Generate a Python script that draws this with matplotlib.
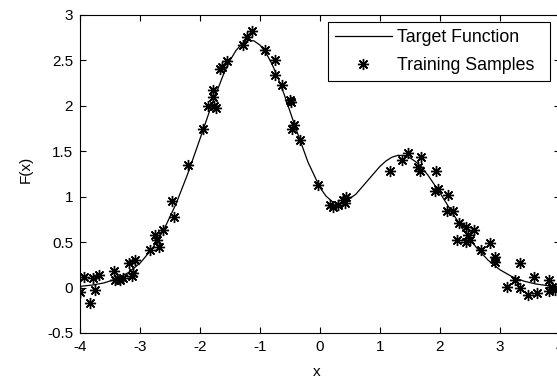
import numpy as np
import matplotlib
matplotlib.use("Agg")
import matplotlib.pyplot as plt

plt.rcParams['font.family'] = ['Liberation Sans', 'DejaVu Sans']
plt.rcParams['axes.unicode_minus'] = False

# target function
xf = [-4.0, -3.8, -3.6, -3.4, -3.2, -3.0, -2.8, -2.6, -2.4, -2.2, -2.0, -1.8,
      -1.6, -1.5, -1.4, -1.3, -1.2, -1.1, -1.0, -0.9, -0.8, -0.7, -0.6, -0.4,
      -0.2, 0.0, 0.1, 0.2, 0.3, 0.4, 0.6, 0.8, 1.0, 1.1, 1.2, 1.3, 1.4, 1.5,
      1.6, 1.7, 1.8, 2.0, 2.2, 2.4, 2.6, 2.8, 3.0, 3.2, 3.4, 3.6, 3.8, 4.0]
yf = [0.0136, 0.0271, 0.0514, 0.0935, 0.1623, 0.2686, 0.4243, 0.6403, 0.9207,
      1.2595, 1.6371, 2.0202, 2.3608, 2.5002, 2.6091, 2.6842, 2.7202, 2.7152,
      2.6686, 2.5826, 2.4600, 2.3074, 2.1317, 1.7465, 1.3801, 1.1000, 1.0070,
      0.9488, 0.9254, 0.9342, 1.0291, 1.1821, 1.3343, 1.3937, 1.4351, 1.4555,
      1.4532, 1.4287, 1.3822, 1.3171, 1.2365, 1.0418, 0.8293, 0.6245, 0.4458,
      0.3023, 0.1954, 0.1202, 0.0704, 0.0392, 0.0210, 0.0107]

# noisy training samples
xs = [-4.0, -3.94, -3.83, -3.78, -3.75, -3.69, -3.44, -3.42, -3.33, -3.28,
      -3.19, -3.14, -3.11, -3.08, -2.83, -2.75, -2.72, -2.69, -2.61, -2.47,
      -2.44, -2.195, -1.955, -1.86, -1.79, -1.78, -1.76, -1.74, -1.67, -1.64,
      -1.555, -1.28, -1.22, -1.14, -0.92, -0.75, -0.75, -0.64, -0.5, -0.48,
      -0.47, -0.44, -0.33, -0.03, 0.17, 0.22, 0.3, 0.39, 0.42, 0.44,
      1.17, 1.36, 1.47, 1.64, 1.67, 1.69, 1.92, 1.94, 1.97, 2.11, 2.14, 2.22,
      2.28, 2.31, 2.44, 2.44, 2.47, 2.5, 2.56, 2.69, 2.83, 2.92, 2.92, 3.11,
      3.25, 3.33, 3.33, 3.47, 3.56, 3.61, 3.81, 3.81, 3.86, 3.92]
ys = [-0.05, 0.12, -0.17, 0.10, -0.03, 0.14, 0.18, 0.08, 0.08, 0.10,
      0.27, 0.13, 0.16, 0.30, 0.41, 0.58, 0.52, 0.45, 0.63, 0.95,
      0.78, 1.35, 1.75, 2.0, 2.10, 2.17, 2.0, 1.98, 2.41, 2.43,
      2.49, 2.67, 2.76, 2.82, 2.61, 2.51, 2.34, 2.23, 2.06, 2.04,
      1.75, 1.79, 1.62, 1.13, 0.91, 0.89, 0.91, 0.96, 0.93, 1.0,
      1.28, 1.40, 1.48, 1.33, 1.28, 1.44, 1.06, 1.28, 1.09, 0.84, 1.02, 0.84,
      0.52, 0.71, 0.67, 0.50, 0.58, 0.52, 0.63, 0.41, 0.49, 0.34, 0.28, 0.01,
      0.08, 0.27, -0.01, -0.08, 0.12, -0.06, 0.08, -0.04, 0.01, -0.03]

fig = plt.figure(figsize=(5.57, 3.8), dpi=100)
ax = fig.add_axes([80/557, 47/380, 480/557, 318/380])

ax.plot(xf, yf, color='k', lw=0.9, label='Target Function')
ax.plot(xs, ys, ls='none', marker=(8, 2, 0), ms=8, mew=1.0, color='k',
        label='Training Samples')

ax.set_xlim(-4, 4)
ax.set_ylim(-0.5, 3)
ax.set_xticks(np.arange(-4, 5, 1))
ax.set_yticks(np.arange(-0.5, 3.01, 0.5))
ax.set_yticklabels(['-0.5', '0', '0.5', '1', '1.5', '2', '2.5', '3'])
ax.tick_params(direction='in', top=True, right=True, length=4, width=0.8,
               labelsize=11, pad=5)
for s in ax.spines.values():
    s.set_linewidth(0.8)
ax.set_xlabel('x', fontsize=11)
ax.set_ylabel('F(x)', fontsize=11)
ax.xaxis.set_label_coords(0.494, -0.10)
ax.yaxis.set_label_coords(-0.098, 0.513)

leg = ax.legend(loc='upper left', mode='expand',
                bbox_to_anchor=(328/557, 1 - 80/380, 222/557, 58/380),
                bbox_transform=fig.transFigure, fontsize=12.8, fancybox=False,
                framealpha=1, borderaxespad=0, handlelength=3.2,
                labelspacing=0.62, borderpad=0.38, handletextpad=0.3)
leg.get_frame().set_edgecolor('k')
leg.get_frame().set_linewidth(0.8)

fig.savefig('out.png', dpi=100)
